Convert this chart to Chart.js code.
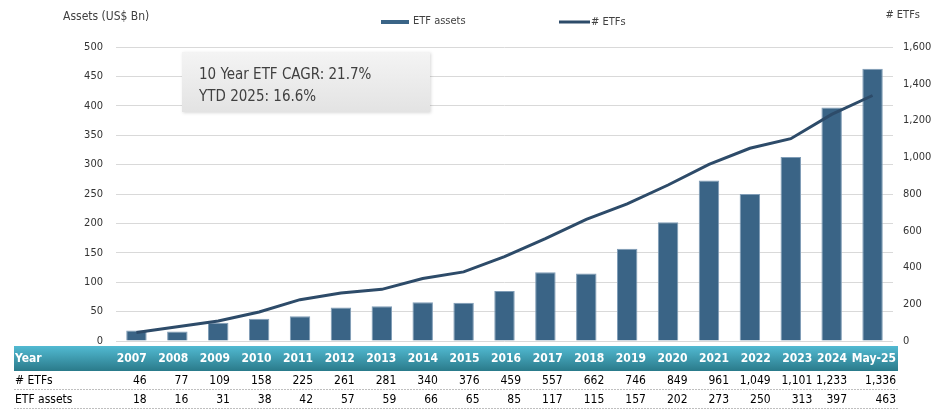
<!DOCTYPE html>
<html>
<head>
<meta charset="utf-8">
<script src="https://cdn.jsdelivr.net/npm/chart.js@4/dist/chart.umd.min.js"></script>
<style>
  html, body { margin: 0; padding: 0; background: #fff; }
  #wrap { width: 935px; height: 419px; position: relative; }
</style>
</head>
<body>
<div id="wrap"><canvas id="chart" width="935" height="419"></canvas></div>
<script>
const years = ['2007','2008','2009','2010','2011','2012','2013','2014','2015','2016','2017','2018','2019','2020','2021','2022','2023','2024','May-25'];
const etfCount = [46,77,109,158,225,261,281,340,376,459,557,662,746,849,961,1049,1101,1233,1336];
const etfAssets = [18,16,31,38,42,57,59,66,65,85,117,115,157,202,273,250,313,397,463];
const notes = ['10 Year ETF CAGR: 21.7%', 'YTD 2025: 16.6%'];

const FONT = "'DejaVu Sans Condensed', Tahoma, 'DejaVu Sans', sans-serif";
const BAR = '#3a6486';
const LINE = '#2d4b69';

const fmt = v => v.toLocaleString('en-US');

const extras = {
  id: 'extras',
  beforeDatasetsDraw(chart) {
    const c = chart.ctx;
    // callout box
    c.save();
    c.shadowColor = 'rgba(0,0,0,0.15)';
    c.shadowBlur = 3;
    c.shadowOffsetX = 1; c.shadowOffsetY = 1;
    const g = c.createLinearGradient(0, 52, 0, 112);
    g.addColorStop(0, '#f4f4f4'); g.addColorStop(1, '#e3e3e3');
    c.fillStyle = g;
    c.fillRect(182, 52, 248, 60);
    c.restore();
    c.save();
    c.fillStyle = '#404040';
    c.font = '15px ' + FONT;
    c.textBaseline = 'middle';
    c.fillText(notes[0], 199, 75);
    c.fillText(notes[1], 199, 97);
    c.restore();
  },
  afterDraw(chart) {
    const c = chart.ctx;
    c.save();
    // axis titles
    c.fillStyle = '#404040';
    c.font = '12px ' + FONT;
    c.textBaseline = 'middle';
    c.textAlign = 'left';
    c.fillText('Assets (US$ Bn)', 63, 17);
    c.font = '11px ' + FONT;
    c.textAlign = 'right';
    c.fillText('# ETFs', 920, 15);
    // legend
    c.textAlign = 'left';
    c.fillStyle = BAR;
    c.fillRect(381, 20, 28, 4);
    c.fillStyle = '#404040';
    c.fillText('ETF assets', 413, 21.5);
    c.strokeStyle = LINE; c.lineWidth = 3;
    c.beginPath(); c.moveTo(559, 22); c.lineTo(590, 22); c.stroke();
    c.fillText('# ETFs', 591, 22);

    // data table
    const left = 14, right = 898;
    const g = c.createLinearGradient(0, 346, 0, 371);
    g.addColorStop(0, '#52bad2'); g.addColorStop(1, '#2a7a8a');
    c.fillStyle = g;
    c.fillRect(left, 346, right - left, 25);
    const colRight = i => i < 17 ? 146.7 + 41.6 * i : (i === 17 ? 847 : 896);
    c.font = 'bold 12px ' + FONT;
    c.fillStyle = '#ffffff';
    c.textAlign = 'left';
    c.fillText('Year', 15, 359);
    c.textAlign = 'right';
    years.forEach((y, i) => c.fillText(y, colRight(i), 359));
    c.font = '12px ' + FONT;
    c.fillStyle = '#000';
    c.textAlign = 'left';
    c.fillText('# ETFs', 15, 381);
    c.fillText('ETF assets', 15, 399.5);
    c.textAlign = 'right';
    etfCount.forEach((v, i) => c.fillText(fmt(v), colRight(i), 381));
    etfAssets.forEach((v, i) => c.fillText(fmt(v), colRight(i), 399.5));
    c.strokeStyle = '#bfbfbf'; c.lineWidth = 1;
    c.setLineDash([2, 1]);
    [389.5, 408.5].forEach(y => {
      c.beginPath(); c.moveTo(left, y); c.lineTo(right, y); c.stroke();
    });
    c.restore();
  }
};

new Chart(document.getElementById('chart'), {
  type: 'bar',
  data: {
    labels: years,
    datasets: [
      {
        type: 'line', label: '# ETFs', data: etfCount, yAxisID: 'y2',
        borderColor: LINE, borderWidth: 3, pointRadius: 0, tension: 0, order: 0
      },
      {
        type: 'bar', label: 'ETF assets', data: etfAssets, yAxisID: 'y',
        backgroundColor: BAR, borderColor: '#7f9cb6', borderWidth: 1,
        barPercentage: 0.5, categoryPercentage: 1, order: 1
      }
    ]
  },
  options: {
    responsive: false,
    animation: false,
    layout: { padding: { top: 47, bottom: 78, left: 0, right: 0 } },
    plugins: { legend: { display: false }, tooltip: { enabled: false } },
    scales: {
      x: {
        display: true,
        grid: { display: false, drawTicks: false },
        border: { display: false },
        ticks: { display: false },
        afterFit: s => { s.height = 0; }
      },
      y: {
        position: 'left', min: 0, max: 500,
        ticks: { stepSize: 50, padding: 13, color: '#333', font: { family: FONT, size: 11 } },
        grid: { color: '#d9d9d9', drawTicks: false },
        border: { display: false },
        afterFit: s => { s.width = 116; }
      },
      y2: {
        position: 'right', min: 0, max: 1600,
        ticks: { stepSize: 200, padding: 10, color: '#333', font: { family: FONT, size: 11 },
                 callback: v => fmt(v) },
        grid: { display: false, drawTicks: false },
        border: { display: false },
        afterFit: s => { s.width = 42; }
      }
    }
  },
  plugins: [extras]
});
</script>
</body>
</html>
